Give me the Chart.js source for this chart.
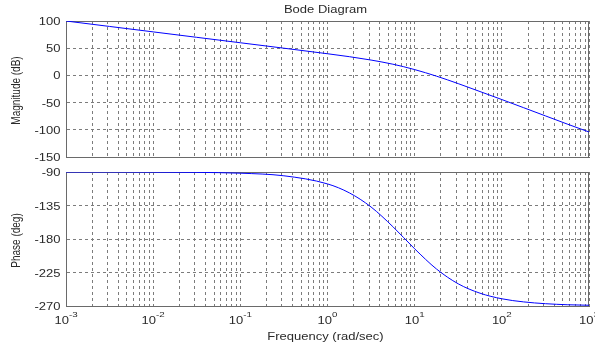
<!DOCTYPE html>
<html><head><meta charset="utf-8">
<script src="https://cdn.jsdelivr.net/npm/chart.js@4.4.1/dist/chart.umd.min.js"></script>
<style>
html,body{margin:0;padding:0;background:#fff;}
#wrap{position:relative;width:595px;height:345px;overflow:hidden;background:#fff;}
canvas{position:absolute;left:0;top:0;}
</style></head><body>
<div id="wrap"><canvas id="phase" width="595" height="345"></canvas><canvas id="mag" width="595" height="345"></canvas></div>
<script>
// ---- data ----
const chartTitle = 'Bode Diagram';
const xAxisTitle = 'Frequency (rad/sec)';
const magAxisTitle = 'Magnitude (dB)';
const phaseAxisTitle = 'Phase (deg)';
const frequencies = [0.001, 0.00316, 0.01, 0.0316, 0.1, 0.316, 1, 1.78, 3.16, 5.62, 10, 17.8, 31.6, 56.2, 100, 178, 316, 562, 1000];
const magnitudeDb = [100, 90, 80, 70, 60, 50, 39.8, 34.4, 28.2, 20.6, 10.7, -1.4, -15.1, -29.7, -44.4, -59.4, -74.4, -89.4, -104];
const phaseDeg = [-90, -90, -90.2, -90.5, -91.6, -95.1, -106, -118, -137, -163.4, -193.2, -220.3, -240.2, -252.8, -260.3, -264.5, -266.9, -268.3, -269];
const xDecades = [0.001, 0.01, 0.1, 1, 10, 100, 1000];
const xTickBase = ['10', '10', '10', '10', '10', '10', '10'];
const xTickExp = ['-3', '-2', '-1', '0', '1', '2', '3'];
const magTicks = [-150, -100, -50, 0, 50, 100];
const phaseTicks = [-270, -225, -180, -135, -90];

// ---- styles ----
const GRID = '#7c7c7c';
const FRAME = '#6a6a6a';
const LINE = '#0000ff';
const TEXT = '#2a2a2a';
const FONT_FAMILY = '"Liberation Sans", Arial, sans-serif';
const SX = 1.3;

const xGridValues = [];
for (let i = 0; i < xDecades.length - 1; i++) {
  for (let m = 1; m <= 9; m++) xGridValues.push(parseFloat((m * xDecades[i]).toPrecision(6)));
}
xGridValues.push(xDecades[xDecades.length - 1]);

function sText(ctx, text, x, y, align, size, rot) {
  ctx.save();
  ctx.font = size + 'px ' + FONT_FAMILY;
  ctx.fillStyle = TEXT;
  ctx.textBaseline = 'alphabetic';
  ctx.textAlign = align;
  ctx.translate(x, y);
  ctx.scale(SX, 1);
  if (rot) ctx.rotate(rot);
  ctx.fillText(text, 0, 0);
  ctx.restore();
}

const framePlugin = {
  id: 'frame',
  beforeDatasetsDraw(chart) {
    const {ctx, chartArea: a} = chart;
    ctx.save();
    ctx.strokeStyle = FRAME;
    ctx.lineWidth = 1;
    ctx.setLineDash([]);
    const l = Math.round(a.left), t = Math.round(a.top), r = Math.round(a.right), b = Math.round(a.bottom);
    ctx.strokeRect(l + 0.5, t + 0.5, r - l - 1, b - t);
    ctx.restore();
  }
};

function yLabelsPlugin(ticks, axisTitle) {
  return {
    id: 'ylabels',
    afterDraw(chart) {
      const ctx = chart.ctx, ys = chart.scales.y, a = chart.chartArea;
      ticks.forEach(v => {
        sText(ctx, String(v), a.left - 5.5, ys.getPixelForValue(v) + 4, 'right', 10);
      });
      sText(ctx, axisTitle, 20, (a.top + a.bottom) / 2 + 1.5, 'center', 10, -Math.PI / 2);
    }
  };
}

const topTextPlugin = {
  id: 'toptext',
  afterDraw(chart) {
    const a = chart.chartArea;
    sText(chart.ctx, chartTitle, (a.left + a.right) / 2 - 2, 13, 'center', 10);
  }
};

const xLabelsPlugin = {
  id: 'xlabels',
  afterDraw(chart) {
    const ctx = chart.ctx, xs = chart.scales.x, a = chart.chartArea;
    xDecades.forEach((v, i) => {
      const px = xs.getPixelForValue(v);
      ctx.save();
      ctx.font = '10px ' + FONT_FAMILY;
      const wb = ctx.measureText(xTickBase[i]).width * SX;
      ctx.font = '7.5px ' + FONT_FAMILY;
      const we = ctx.measureText(xTickExp[i]).width * SX;
      ctx.restore();
      const start = px - (wb + we) / 2;
      sText(ctx, xTickBase[i], start, a.bottom + 18, 'left', 10);
      sText(ctx, xTickExp[i], start + wb, a.bottom + 10.5, 'left', 7.5);
    });
    sText(ctx, xAxisTitle, (a.left + a.right) / 2 - 2, 340, 'center', 10);
  }
};

function makeX(hideHeight) {
  return {
    type: 'logarithmic',
    min: xDecades[0],
    max: xDecades[xDecades.length - 1],
    ticks: {display: false},
    grid: {color: GRID, lineWidth: 1, drawTicks: false},
    border: {display: true, color: FRAME, width: 1, dash: [3, 3]},
    afterBuildTicks: s => { s.ticks = xGridValues.map(v => ({value: v})); },
    afterFit: s => { s.height = hideHeight; }
  };
}
function makeY(ticks) {
  return {
    type: 'linear',
    min: ticks[0],
    max: ticks[ticks.length - 1],
    ticks: {display: false, stepSize: ticks[1] - ticks[0]},
    grid: {color: GRID, lineWidth: 1, drawTicks: false},
    border: {display: true, color: FRAME, width: 1, dash: [3, 3]},
    afterBuildTicks: s => { s.ticks = ticks.map(v => ({value: v})); },
    afterFit: s => { s.width = 66; }
  };
}

const common = {
  responsive: false,
  animation: false,
  devicePixelRatio: 1,
  plugins: {legend: {display: false}, tooltip: {enabled: false}, title: {display: false}},
  elements: {point: {radius: 0}}
};

new Chart(document.getElementById('mag'), {
  type: 'line',
  data: {datasets: [{
    data: frequencies.map((f, i) => ({x: f, y: magnitudeDb[i]})),
    borderColor: LINE, borderWidth: 1, pointRadius: 0, fill: false,
    cubicInterpolationMode: 'monotone'
  }]},
  options: Object.assign({}, common, {
    layout: {padding: {top: 21, left: 0, right: 6, bottom: 188}},
    scales: {x: makeX(0), y: makeY(magTicks)}
  }),
  plugins: [framePlugin, yLabelsPlugin(magTicks, magAxisTitle), topTextPlugin]
});

new Chart(document.getElementById('phase'), {
  type: 'line',
  data: {datasets: [{
    data: frequencies.map((f, i) => ({x: f, y: phaseDeg[i]})),
    borderColor: LINE, borderWidth: 1, pointRadius: 0, fill: false,
    cubicInterpolationMode: 'monotone'
  }]},
  options: Object.assign({}, common, {
    layout: {padding: {top: 172, left: 0, right: 6, bottom: 0}},
    scales: {x: makeX(39), y: makeY(phaseTicks)}
  }),
  plugins: [framePlugin, yLabelsPlugin(phaseTicks, phaseAxisTitle), xLabelsPlugin]
});
</script>
</body></html>
